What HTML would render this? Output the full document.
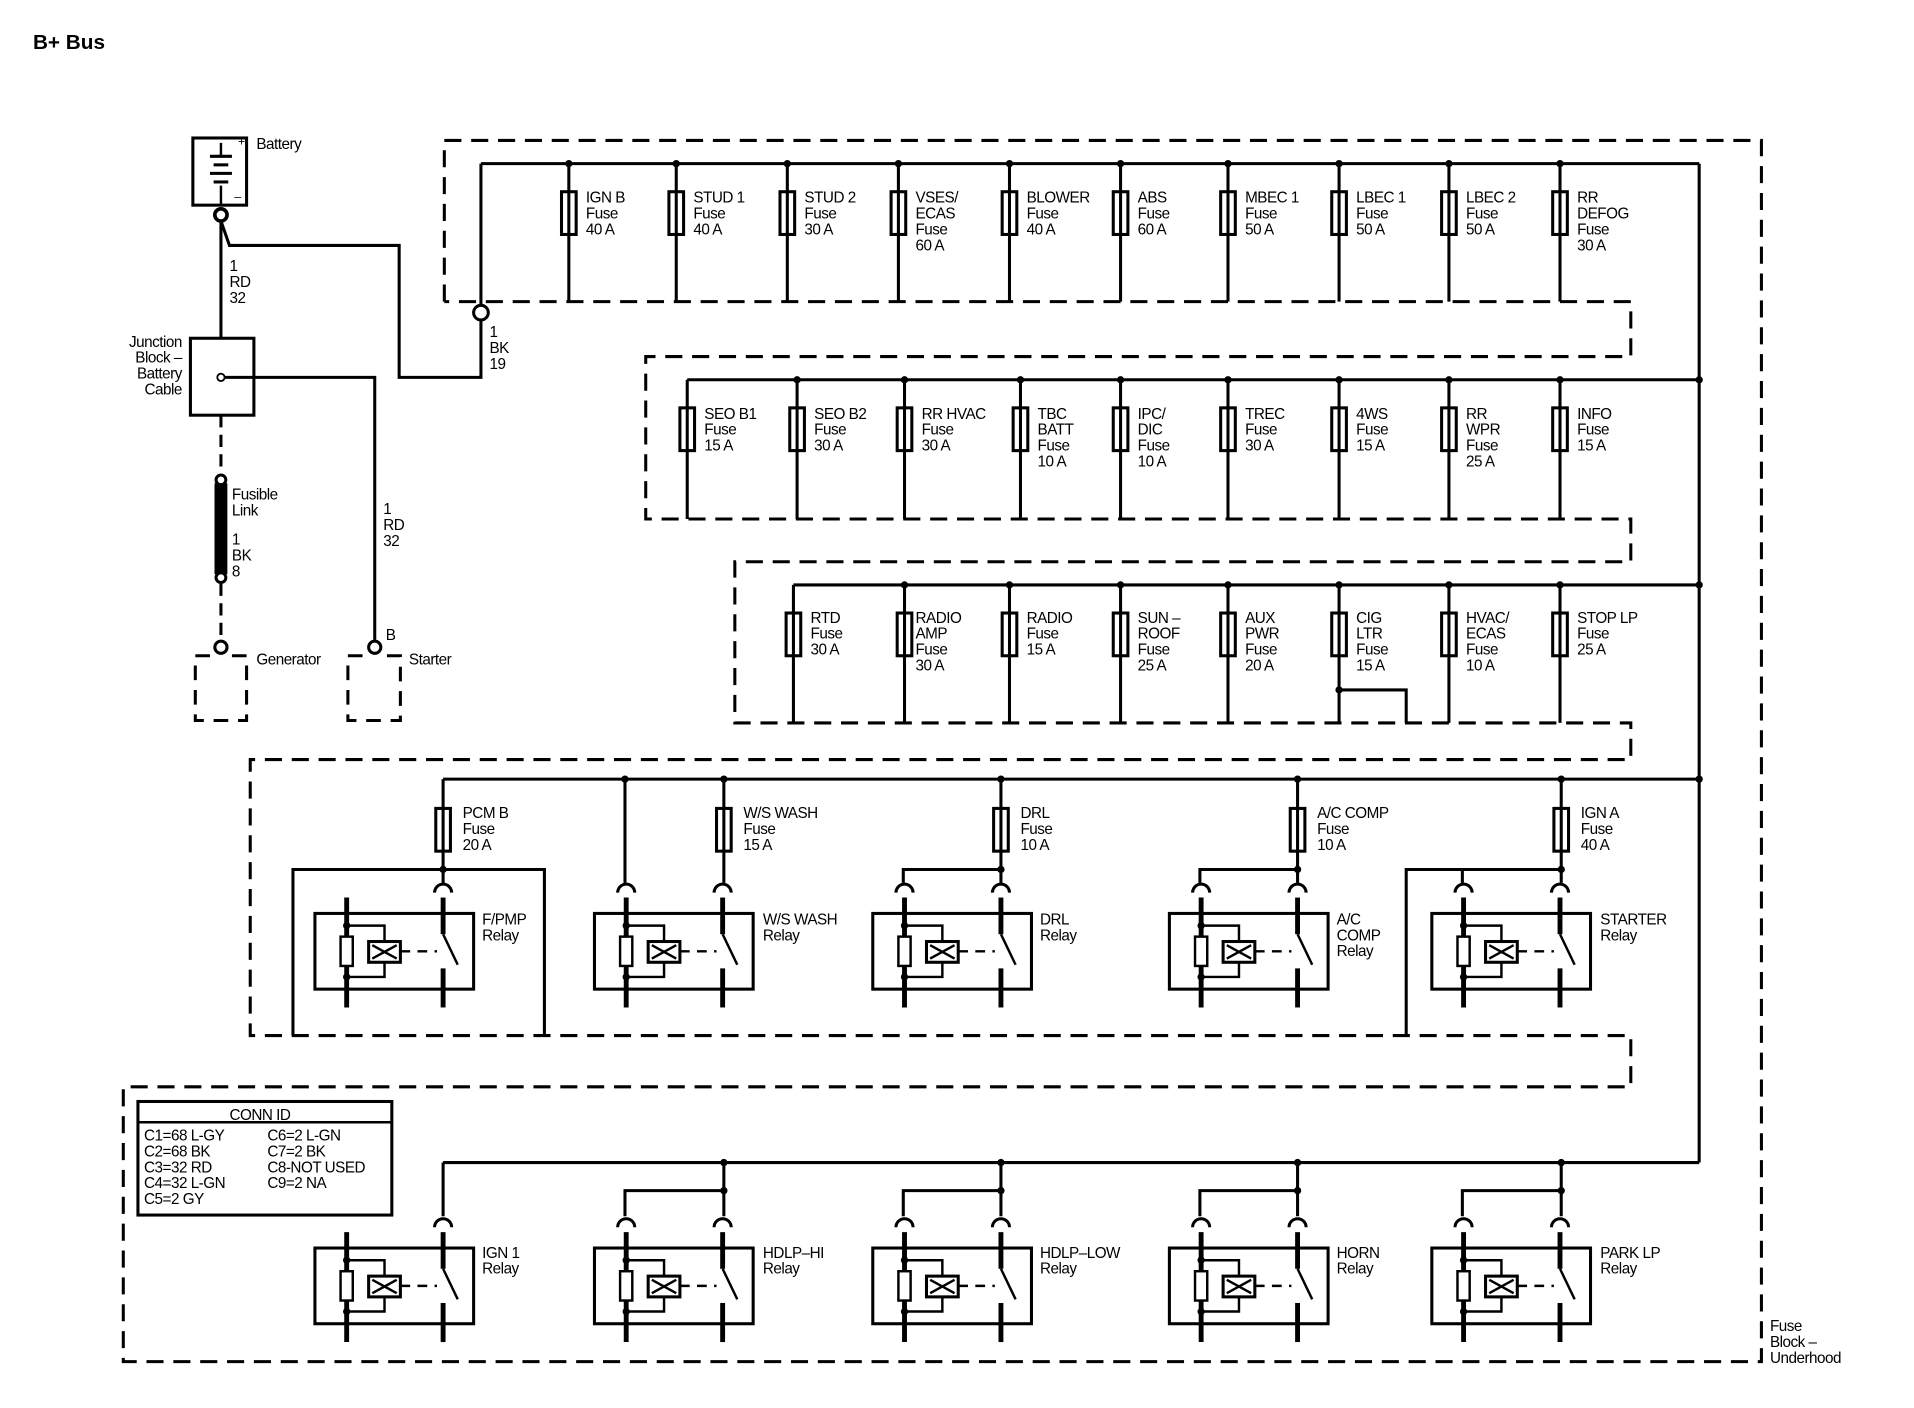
<!DOCTYPE html>
<html><head><meta charset="utf-8"><style>
html,body{margin:0;padding:0;background:#fff;}
svg{display:block;}
text{font-family:"Liberation Sans",Arial,sans-serif;font-size:12.5px;fill:#000;letter-spacing:-0.4px;}
</style></head><body>
<svg width="1914" height="1408" viewBox="0 0 1568 1153" preserveAspectRatio="none" xmlns="http://www.w3.org/2000/svg">
<defs>
<g id="fz"><rect x="-6" y="0" width="12" height="35" fill="#fff" stroke="#000" stroke-width="2.5"/><line x1="0" y1="0" x2="0" y2="35" stroke="#000" stroke-width="2.5"/></g>
<g id="rl" stroke="#000" fill="none">
<rect x="0" y="0" width="130" height="62" stroke-width="2.5"/>
<line x1="26" y1="-13" x2="26" y2="77" stroke-width="4"/>
<polyline points="26,10 57,10 57,52 26,52" stroke-width="2"/>
<circle cx="26" cy="10" r="2.5" fill="#000"/><circle cx="26" cy="52" r="2.5" fill="#000"/>
<rect x="21" y="19" width="10" height="24" fill="#fff" stroke-width="2"/>
<rect x="44" y="23" width="26" height="17" fill="#fff" stroke-width="2.5"/>
<path d="M47,26 L67,37 M47,37 L67,26" stroke-width="2"/>
<line x1="70" y1="31" x2="100" y2="31" stroke-width="2" stroke-dasharray="8,6"/>
<line x1="105" y1="-13" x2="105" y2="17" stroke-width="4"/>
<line x1="105" y1="17" x2="117" y2="42" stroke-width="2"/>
<line x1="105" y1="45" x2="105" y2="77" stroke-width="4"/>
<path d="M98,-17 A7,7 0 0 1 112,-17" stroke-width="2.5"/>
</g>
<path id="la" d="M19,-17 A7,7 0 0 1 33,-17" stroke="#000" fill="none" stroke-width="2.5"/>
</defs>

<text x="27" y="40" style="font-size:17px;font-weight:bold;letter-spacing:0">B+ Bus</text>

<g stroke="#000" stroke-width="2.5" fill="none">
<rect x="158" y="113" width="44" height="55"/>
<line x1="181" y1="117" x2="181" y2="128" stroke-width="2"/>
<line x1="172" y1="128" x2="190" y2="128"/><line x1="175" y1="135" x2="187" y2="135"/>
<line x1="172" y1="142" x2="190" y2="142"/><line x1="175" y1="149" x2="187" y2="149"/>
<line x1="181" y1="152" x2="181" y2="168" stroke-width="2"/>
<circle cx="181" cy="176" r="5" stroke-width="3"/>
<line x1="181" y1="181" x2="181" y2="277"/>
<polyline points="181,181 188,201 327,201 327,309 394,309 394,262"/>
<circle cx="394" cy="256" r="6" stroke-width="2.5"/>
<line x1="394" y1="250" x2="394" y2="134"/>
<rect x="156" y="277" width="52" height="63"/>
<circle cx="181" cy="309" r="3" fill="#fff" stroke-width="1.5"/>
<polyline points="184,309 307,309 307,524"/>
<circle cx="307" cy="530" r="5" stroke-width="2.5"/>
<line x1="181" y1="340" x2="181" y2="388" stroke-dasharray="10,6"/>
<circle cx="181" cy="393" r="4" stroke-width="2.5"/>
<rect x="177" y="397" width="8" height="72" fill="#000"/>
<circle cx="181" cy="473" r="4" stroke-width="2.5"/>
<line x1="181" y1="478" x2="181" y2="524" stroke-dasharray="10,6"/>
<circle cx="181" cy="530" r="5" stroke-width="2.5"/>
<g stroke-dasharray="12,8">
<polyline points="172,537 160,537 160,590 202,590 202,537 190,537"/>
<polyline points="297,537 285,537 285,590 328,590 328,537 316,537"/>
</g>
<polyline stroke-dasharray="14,8" points="364,247 364,115 1443,115 1443,1115 101,1115 101,890 1336,890 1336,848 205,848 205,622 1336,622 1336,592 602,592 602,460 1336,460 1336,425 529,425 529,292 1336,292 1336,247 364,247"/>
<line x1="1392" y1="134" x2="1392" y2="952"/>
<line x1="394" y1="134" x2="1392" y2="134"/>
<line x1="563" y1="311" x2="1392" y2="311"/>
<line x1="650" y1="479" x2="1392" y2="479"/>
<line x1="363" y1="638" x2="1392" y2="638"/>
<line x1="363" y1="952" x2="1392" y2="952"/>
<path d="M466,134V247M554,134V247M645,134V247M736,134V247M827,134V247M918,134V247M1006,134V247M1097,134V247M1187,134V247M1278,134V247"/>
<path d="M563,311V425M653,311V425M741,311V425M836,311V425M918,311V425M1006,311V425M1097,311V425M1187,311V425M1278,311V425"/>
<path d="M650,479V592M741,479V592M827,479V592M918,479V592M1006,479V592M1097,479V592M1187,479V592M1278,479V592M1097,565H1152V592"/>
<path d="M363,638V723M593,638V723M820,638V723M1063,638V723M1279,638V723M512,638V723"/>
<path d="M240,848V712H446V848M740,723V712H820M983,723V712H1063M1152,848V712H1279M1198,723V712"/>
<path d="M363,952V996M593,952V996M820,952V996M1063,952V996M1279,952V996"/>
<path d="M512,996V975H593M740,996V975H820M983,996V975H1063M1198,996V975H1279"/>
<rect x="113" y="902" width="208" height="93"/>
<line x1="113" y1="919" x2="321" y2="919" stroke-width="2"/>
</g>
<g fill="#000">
<circle cx="466" cy="134" r="3"/><circle cx="554" cy="134" r="3"/><circle cx="645" cy="134" r="3"/><circle cx="736" cy="134" r="3"/><circle cx="827" cy="134" r="3"/><circle cx="918" cy="134" r="3"/><circle cx="1006" cy="134" r="3"/><circle cx="1097" cy="134" r="3"/><circle cx="1187" cy="134" r="3"/><circle cx="1278" cy="134" r="3"/>
<circle cx="653" cy="311" r="3"/><circle cx="741" cy="311" r="3"/><circle cx="836" cy="311" r="3"/><circle cx="918" cy="311" r="3"/><circle cx="1006" cy="311" r="3"/><circle cx="1097" cy="311" r="3"/><circle cx="1187" cy="311" r="3"/><circle cx="1278" cy="311" r="3"/><circle cx="1392" cy="311" r="3"/>
<circle cx="741" cy="479" r="3"/><circle cx="827" cy="479" r="3"/><circle cx="918" cy="479" r="3"/><circle cx="1006" cy="479" r="3"/><circle cx="1097" cy="479" r="3"/><circle cx="1187" cy="479" r="3"/><circle cx="1278" cy="479" r="3"/><circle cx="1392" cy="479" r="3"/><circle cx="1097" cy="565" r="3"/>
<circle cx="512" cy="638" r="3"/><circle cx="593" cy="638" r="3"/><circle cx="820" cy="638" r="3"/><circle cx="1063" cy="638" r="3"/><circle cx="1279" cy="638" r="3"/><circle cx="1392" cy="638" r="3"/>
<circle cx="363" cy="712" r="3"/><circle cx="820" cy="712" r="3"/><circle cx="1063" cy="712" r="3"/><circle cx="1279" cy="712" r="3"/>
<circle cx="593" cy="952" r="3"/><circle cx="820" cy="952" r="3"/><circle cx="1063" cy="952" r="3"/><circle cx="1279" cy="952" r="3"/>
<circle cx="593" cy="975" r="3"/><circle cx="820" cy="975" r="3"/><circle cx="1063" cy="975" r="3"/><circle cx="1279" cy="975" r="3"/>
</g>
<use href="#fz" x="466" y="157"/><use href="#fz" x="554" y="157"/><use href="#fz" x="645" y="157"/><use href="#fz" x="736" y="157"/><use href="#fz" x="827" y="157"/><use href="#fz" x="918" y="157"/><use href="#fz" x="1006" y="157"/><use href="#fz" x="1097" y="157"/><use href="#fz" x="1187" y="157"/><use href="#fz" x="1278" y="157"/>
<use href="#fz" x="563" y="334"/><use href="#fz" x="653" y="334"/><use href="#fz" x="741" y="334"/><use href="#fz" x="836" y="334"/><use href="#fz" x="918" y="334"/><use href="#fz" x="1006" y="334"/><use href="#fz" x="1097" y="334"/><use href="#fz" x="1187" y="334"/><use href="#fz" x="1278" y="334"/>
<use href="#fz" x="650" y="502"/><use href="#fz" x="741" y="502"/><use href="#fz" x="827" y="502"/><use href="#fz" x="918" y="502"/><use href="#fz" x="1006" y="502"/><use href="#fz" x="1097" y="502"/><use href="#fz" x="1187" y="502"/><use href="#fz" x="1278" y="502"/>
<use href="#fz" x="363" y="662"/><use href="#fz" x="593" y="662"/><use href="#fz" x="820" y="662"/><use href="#fz" x="1063" y="662"/><use href="#fz" x="1279" y="662"/>
<use href="#rl" x="258" y="748"/><use href="#rl" x="487" y="748"/><use href="#la" x="487" y="748"/><use href="#rl" x="715" y="748"/><use href="#la" x="715" y="748"/><use href="#rl" x="958" y="748"/><use href="#la" x="958" y="748"/><use href="#rl" x="1173" y="748"/><use href="#la" x="1173" y="748"/>
<use href="#rl" x="258" y="1022"/><use href="#rl" x="487" y="1022"/><use href="#la" x="487" y="1022"/><use href="#rl" x="715" y="1022"/><use href="#la" x="715" y="1022"/><use href="#rl" x="958" y="1022"/><use href="#la" x="958" y="1022"/><use href="#rl" x="1173" y="1022"/><use href="#la" x="1173" y="1022"/>

<text x="210" y="122">Battery</text>
<text x="195" y="119" style="font-size:10px">+</text><text x="192" y="164" style="font-size:10px">–</text>
<text x="188" y="222">1</text><text x="188" y="235">RD</text><text x="188" y="248">32</text>
<text x="401" y="276">1</text><text x="401" y="289">BK</text><text x="401" y="302">19</text>
<text x="149" y="284" text-anchor="end">Junction</text><text x="149" y="297" text-anchor="end">Block –</text><text x="149" y="310" text-anchor="end">Battery</text><text x="149" y="323" text-anchor="end">Cable</text>
<text x="190" y="409">Fusible</text><text x="190" y="422">Link</text>
<text x="190" y="446">1</text><text x="190" y="459">BK</text><text x="190" y="472">8</text>
<text x="314" y="421">1</text><text x="314" y="434">RD</text><text x="314" y="447">32</text>
<text x="316" y="524">B</text>
<text x="210" y="544">Generator</text><text x="335" y="544">Starter</text>

<text x="480" y="166">IGN B</text><text x="480" y="179">Fuse</text><text x="480" y="192">40 A</text>
<text x="568" y="166">STUD 1</text><text x="568" y="179">Fuse</text><text x="568" y="192">40 A</text>
<text x="659" y="166">STUD 2</text><text x="659" y="179">Fuse</text><text x="659" y="192">30 A</text>
<text x="750" y="166">VSES/</text><text x="750" y="179">ECAS</text><text x="750" y="192">Fuse</text><text x="750" y="205">60 A</text>
<text x="841" y="166">BLOWER</text><text x="841" y="179">Fuse</text><text x="841" y="192">40 A</text>
<text x="932" y="166">ABS</text><text x="932" y="179">Fuse</text><text x="932" y="192">60 A</text>
<text x="1020" y="166">MBEC 1</text><text x="1020" y="179">Fuse</text><text x="1020" y="192">50 A</text>
<text x="1111" y="166">LBEC 1</text><text x="1111" y="179">Fuse</text><text x="1111" y="192">50 A</text>
<text x="1201" y="166">LBEC 2</text><text x="1201" y="179">Fuse</text><text x="1201" y="192">50 A</text>
<text x="1292" y="166">RR</text><text x="1292" y="179">DEFOG</text><text x="1292" y="192">Fuse</text><text x="1292" y="205">30 A</text>
<text x="577" y="343">SEO B1</text><text x="577" y="356">Fuse</text><text x="577" y="369">15 A</text>
<text x="667" y="343">SEO B2</text><text x="667" y="356">Fuse</text><text x="667" y="369">30 A</text>
<text x="755" y="343">RR HVAC</text><text x="755" y="356">Fuse</text><text x="755" y="369">30 A</text>
<text x="850" y="343">TBC</text><text x="850" y="356">BATT</text><text x="850" y="369">Fuse</text><text x="850" y="382">10 A</text>
<text x="932" y="343">IPC/</text><text x="932" y="356">DIC</text><text x="932" y="369">Fuse</text><text x="932" y="382">10 A</text>
<text x="1020" y="343">TREC</text><text x="1020" y="356">Fuse</text><text x="1020" y="369">30 A</text>
<text x="1111" y="343">4WS</text><text x="1111" y="356">Fuse</text><text x="1111" y="369">15 A</text>
<text x="1201" y="343">RR</text><text x="1201" y="356">WPR</text><text x="1201" y="369">Fuse</text><text x="1201" y="382">25 A</text>
<text x="1292" y="343">INFO</text><text x="1292" y="356">Fuse</text><text x="1292" y="369">15 A</text>
<text x="664" y="510">RTD</text><text x="664" y="523">Fuse</text><text x="664" y="536">30 A</text>
<text x="750" y="510">RADIO</text><text x="750" y="523">AMP</text><text x="750" y="536">Fuse</text><text x="750" y="549">30 A</text>
<text x="841" y="510">RADIO</text><text x="841" y="523">Fuse</text><text x="841" y="536">15 A</text>
<text x="932" y="510">SUN –</text><text x="932" y="523">ROOF</text><text x="932" y="536">Fuse</text><text x="932" y="549">25 A</text>
<text x="1020" y="510">AUX</text><text x="1020" y="523">PWR</text><text x="1020" y="536">Fuse</text><text x="1020" y="549">20 A</text>
<text x="1111" y="510">CIG</text><text x="1111" y="523">LTR</text><text x="1111" y="536">Fuse</text><text x="1111" y="549">15 A</text>
<text x="1201" y="510">HVAC/</text><text x="1201" y="523">ECAS</text><text x="1201" y="536">Fuse</text><text x="1201" y="549">10 A</text>
<text x="1292" y="510">STOP LP</text><text x="1292" y="523">Fuse</text><text x="1292" y="536">25 A</text>
<text x="379" y="670">PCM B</text><text x="379" y="683">Fuse</text><text x="379" y="696">20 A</text>
<text x="609" y="670">W/S WASH</text><text x="609" y="683">Fuse</text><text x="609" y="696">15 A</text>
<text x="836" y="670">DRL</text><text x="836" y="683">Fuse</text><text x="836" y="696">10 A</text>
<text x="1079" y="670">A/C COMP</text><text x="1079" y="683">Fuse</text><text x="1079" y="696">10 A</text>
<text x="1295" y="670">IGN A</text><text x="1295" y="683">Fuse</text><text x="1295" y="696">40 A</text>
<text x="395" y="757">F/PMP</text><text x="395" y="770">Relay</text>
<text x="625" y="757">W/S WASH</text><text x="625" y="770">Relay</text>
<text x="852" y="757">DRL</text><text x="852" y="770">Relay</text>
<text x="1095" y="757">A/C</text><text x="1095" y="770">COMP</text><text x="1095" y="783">Relay</text>
<text x="1311" y="757">STARTER</text><text x="1311" y="770">Relay</text>
<text x="395" y="1030">IGN 1</text><text x="395" y="1043">Relay</text>
<text x="625" y="1030">HDLP–HI</text><text x="625" y="1043">Relay</text>
<text x="852" y="1030">HDLP–LOW</text><text x="852" y="1043">Relay</text>
<text x="1095" y="1030">HORN</text><text x="1095" y="1043">Relay</text>
<text x="1311" y="1030">PARK LP</text><text x="1311" y="1043">Relay</text>
<text x="213" y="917" text-anchor="middle">CONN ID</text>
<text x="118" y="934">C1=68 L-GY</text><text x="118" y="947">C2=68 BK</text><text x="118" y="960">C3=32 RD</text><text x="118" y="973">C4=32 L-GN</text><text x="118" y="986">C5=2 GY</text>
<text x="219" y="934">C6=2 L-GN</text><text x="219" y="947">C7=2 BK</text><text x="219" y="960">C8-NOT USED</text><text x="219" y="973">C9=2 NA</text>
<text x="1450" y="1090">Fuse</text><text x="1450" y="1103">Block –</text><text x="1450" y="1116">Underhood</text>
</svg>
</body></html>
